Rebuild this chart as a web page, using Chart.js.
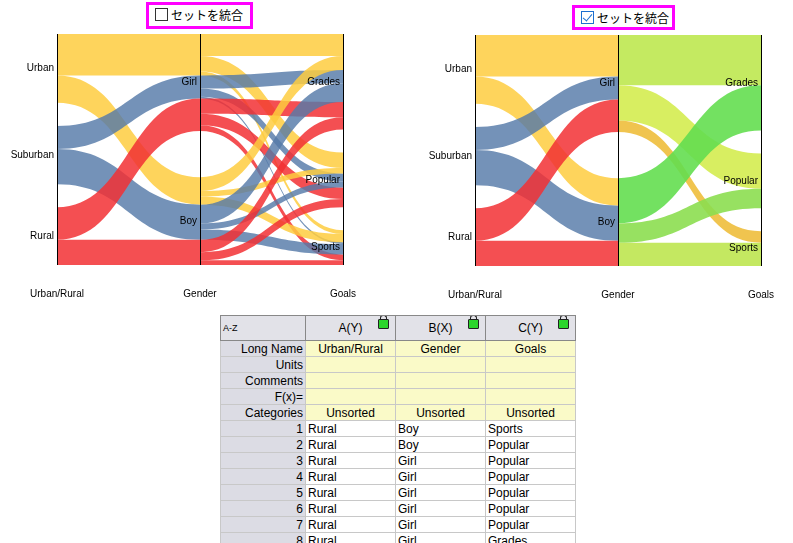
<!DOCTYPE html>
<html>
<head>
<meta charset="utf-8">
<script src="https://cdn.jsdelivr.net/npm/chart.js@4"></script>
<style>
  body { margin: 0; width: 793px; height: 543px; overflow: hidden; background: #fff; font-family: "Liberation Sans", Arial, sans-serif; position: relative; }
  .wrap { position: absolute; top: 0; width: 400px; height: 300px; }
  .toggle { position: absolute; border: 3px solid #f0f; box-sizing: border-box; font-family: "Noto Sans CJK JP", sans-serif; font-size: 12px; line-height: 20px; padding-left: 6px; background: #fff; white-space: nowrap; }
  .box { display: inline-block; width: 11px; height: 11px; border: 1px solid #333; vertical-align: -1px; margin-right: 3px; position: relative; }
  .box.on { border-color: #1c6fd0; }
  .box.on::after { content: ""; position: absolute; left: 3px; top: 0px; width: 4px; height: 8px; border: solid #1c6fd0; border-width: 0 1.5px 1.5px 0; transform: rotate(40deg); }
  table { position: absolute; left: 220px; top: 315px; border-collapse: collapse; font-size: 12px; table-layout: fixed; }
  td { border: 1px solid #c8c8c8; height: 15px; padding: 0 2px; white-space: nowrap; overflow: hidden; }
  td.rh { background: #dcdce4; text-align: right; width: 80px; }
  td.ch { background: #e2e2e8; text-align: center; height: 24px; border-color: #888; position: relative; }
  td.meta { background: #fafac8; text-align: center; }
  .lock { position: absolute; right: 6px; top: 3px; width: 9px; height: 8px; background: #2bd52b; border: 1px solid #222; border-radius: 1px; }
  .lock::before { content: ""; position: absolute; left: 1px; top: -5px; width: 5px; height: 4px; border: 1px solid #222; border-bottom: none; border-radius: 3px 3px 0 0; }
</style>
</head>
<body>
<div class="toggle" style="left:146px;top:2px;width:107px;height:27px;"><span class="box"></span>セットを統合</div>
<div class="toggle" style="left:572px;top:5px;width:103px;height:25px;"><span class="box on"></span>セットを統合</div>
<div class="wrap" style="left:0"><canvas id="c1" width="400" height="300"></canvas></div>
<div class="wrap" style="left:418px"><canvas id="c2" width="400" height="300"></canvas></div>
<table id="tbl"></table>
<script>
const dims = ['Urban/Rural', 'Gender', 'Goals'];
const urCats = ['Urban', 'Suburban', 'Rural'];
const genderCats = ['Girl', 'Boy'];
const goalCats = ['Grades', 'Popular', 'Sports'];
// counts per goal (Grades, Popular, Sports)
const urbanGirl = [57, 40, 10];
const urbanBoy = [36, 14, 21];
const suburbanGirl = [34, 21, 5];
const suburbanBoy = [49, 15, 27];
const ruralGirl = [39, 30, 15];
const ruralBoy = [32, 21, 12];

const urColors = ['rgba(254,205,64,0.85)', 'rgba(86,122,168,0.82)', 'rgba(242,48,52,0.85)'];
const mergedColors = [
  ['rgba(190,232,80,0.9)', 'rgba(212,236,80,0.9)', 'rgba(238,190,60,0.9)'],
  ['rgba(100,222,80,0.9)', 'rgba(140,222,80,0.9)', 'rgba(190,230,80,0.9)']
];

const counts = [[urbanGirl, urbanBoy], [suburbanGirl, suburbanBoy], [ruralGirl, ruralBoy]];
const total = counts.flat(2).reduce((a, b) => a + b, 0);
const gapTotal = 119;

function sum(arr) { return arr.reduce((a, b) => a + b, 0); }
function axisStarts(sizes) {
  const gap = gapTotal / (sizes.length - 1);
  let y = 0;
  return sizes.map(s => { const t = y; y += s + gap; return t; });
}
const urSizes = urCats.map((_, u) => sum(counts[u].flat()));
const gSizes = genderCats.map((_, g) => sum(counts.map(c => sum(c[g]))));
const goalSizes = goalCats.map((_, k) => sum(counts.map(c => c[0][k] + c[1][k])));
const urStart = axisStarts(urSizes), gStart = axisStarts(gSizes), goalStart = axisStarts(goalSizes);

function buildRibbons(merged) {
  const rib = [];
  // segment 1: UR -> Gender
  const uCur = urStart.slice(), gCur = gStart.slice();
  const flows1 = [];
  urCats.forEach((_, u) => genderCats.forEach((_, g) => flows1.push({ u, g, v: sum(counts[u][g]) })));
  flows1.forEach(f => { f.a = uCur[f.u]; uCur[f.u] += f.v; });
  [...flows1].sort((p, q) => p.g - q.g || p.u - q.u).forEach(f => { f.b = gCur[f.g]; gCur[f.g] += f.v; });
  flows1.forEach(f => rib.push({ x0: 0, x1: 1, a: f.a, b: f.b, v: f.v, color: urColors[f.u] }));
  // segment 2: Gender -> Goals
  const g2 = gStart.slice(), k2 = goalStart.slice();
  const flows2 = [];
  if (merged) {
    genderCats.forEach((_, g) => goalCats.forEach((_, k) => flows2.push({ g, k, u: 0, v: sum(counts.map(c => c[g][k])), color: mergedColors[g][k] })));
  } else {
    genderCats.forEach((_, g) => urCats.forEach((_, u) => goalCats.forEach((_, k) => flows2.push({ g, u, k, v: counts[u][g][k], color: urColors[u] }))));
  }
  flows2.forEach(f => { f.a = g2[f.g]; g2[f.g] += f.v; });
  [...flows2].sort((p, q) => p.k - q.k || p.u - q.u || p.g - q.g).forEach(f => { f.b = k2[f.k]; k2[f.k] += f.v; });
  flows2.forEach(f => rib.push({ x0: 1, x1: 2, a: f.a, b: f.b, v: f.v, color: f.color }));
  return rib;
}

const parsetPlugin = {
  id: 'parset',
  beforeDatasetsDraw(chart, args, opts) {
    const { ctx, scales: { x, y }, chartArea } = chart;
    ctx.save();
    opts.ribbons.forEach(r => {
      const px0 = x.getPixelForValue(r.x0), px1 = x.getPixelForValue(r.x1), mx = (px0 + px1) / 2;
      const a0 = y.getPixelForValue(r.a), a1 = y.getPixelForValue(r.a + r.v);
      const b0 = y.getPixelForValue(r.b), b1 = y.getPixelForValue(r.b + r.v);
      ctx.beginPath();
      ctx.moveTo(px0, a0);
      ctx.bezierCurveTo(mx, a0, mx, b0, px1, b0);
      ctx.lineTo(px1, b1);
      ctx.bezierCurveTo(mx, b1, mx, a1, px0, a1);
      ctx.closePath();
      ctx.fillStyle = r.color;
      ctx.fill();
    });
    ctx.strokeStyle = '#000';
    ctx.lineWidth = 1;
    [0, 1, 2].forEach(v => {
      const px = Math.round(x.getPixelForValue(v)) + 0.5;
      ctx.beginPath(); ctx.moveTo(px, chartArea.top); ctx.lineTo(px, chartArea.bottom); ctx.stroke();
    });
    ctx.fillStyle = '#000';
    ctx.font = '10px "Liberation Sans", Arial, sans-serif';
    ctx.textBaseline = 'middle';
    ctx.textAlign = 'right';
    const lab = (cats, starts, sizes, v) => cats.forEach((c, i) =>
      ctx.fillText(c, x.getPixelForValue(v) - 3, y.getPixelForValue(starts[i] + sizes[i] / 2)));
    lab(urCats, urStart, urSizes, 0);
    lab(genderCats, gStart, gSizes, 1);
    lab(goalCats, goalStart, goalSizes, 2);
    ctx.textAlign = 'center';
    dims.forEach((d, i) => ctx.fillText(d, x.getPixelForValue(i), chartArea.bottom + 29));
    ctx.restore();
  }
};

function makeChart(id, merged, top, bottom) {
  new Chart(document.getElementById(id), {
    type: 'scatter',
    data: { datasets: [{ data: [] }] },
    options: {
      responsive: false, animation: false, devicePixelRatio: 1,
      layout: { padding: { left: 57, right: 57, top: top, bottom: bottom } },
      plugins: { legend: { display: false }, tooltip: { enabled: false }, parset: { ribbons: buildRibbons(merged) } },
      scales: {
        x: { display: false, min: 0, max: 2 },
        y: { display: false, min: 0, max: total + gapTotal, reverse: true }
      }
    },
    plugins: [parsetPlugin]
  });
}
makeChart('c1', false, 34, 35);
makeChart('c2', true, 35, 34);

// worksheet
const colHeads = ['A(Y)', 'B(X)', 'C(Y)'];
const longNames = ['Urban/Rural', 'Gender', 'Goals'];
const metaRows = ['Units', 'Comments', 'F(x)='];
const colUR = ['Rural', 'Rural', 'Rural', 'Rural', 'Rural', 'Rural', 'Rural', 'Rural'];
const colGender = ['Boy', 'Boy', 'Girl', 'Girl', 'Girl', 'Girl', 'Girl', 'Girl'];
const colGoals = ['Sports', 'Popular', 'Popular', 'Popular', 'Popular', 'Popular', 'Popular', 'Grades'];

let h = '<tr><td class="ch" style="text-align:left;font-size:9px;">A-Z</td>' +
  colHeads.map(c => `<td class="ch" style="width:85px">${c}<span class="lock"></span></td>`).join('') + '</tr>';
h += '<tr><td class="rh">Long Name</td>' + longNames.map(n => `<td class="meta">${n}</td>`).join('') + '</tr>';
metaRows.forEach(m => { h += `<tr><td class="rh">${m}</td><td class="meta"></td><td class="meta"></td><td class="meta"></td></tr>`; });
h += '<tr><td class="rh">Categories</td>' + colHeads.map(() => '<td class="meta">Unsorted</td>').join('') + '</tr>';
colUR.forEach((v, i) => { h += `<tr><td class="rh">${i + 1}</td><td>${v}</td><td>${colGender[i]}</td><td>${colGoals[i]}</td></tr>`; });
document.getElementById('tbl').innerHTML = h;
</script>
</body>
</html>
